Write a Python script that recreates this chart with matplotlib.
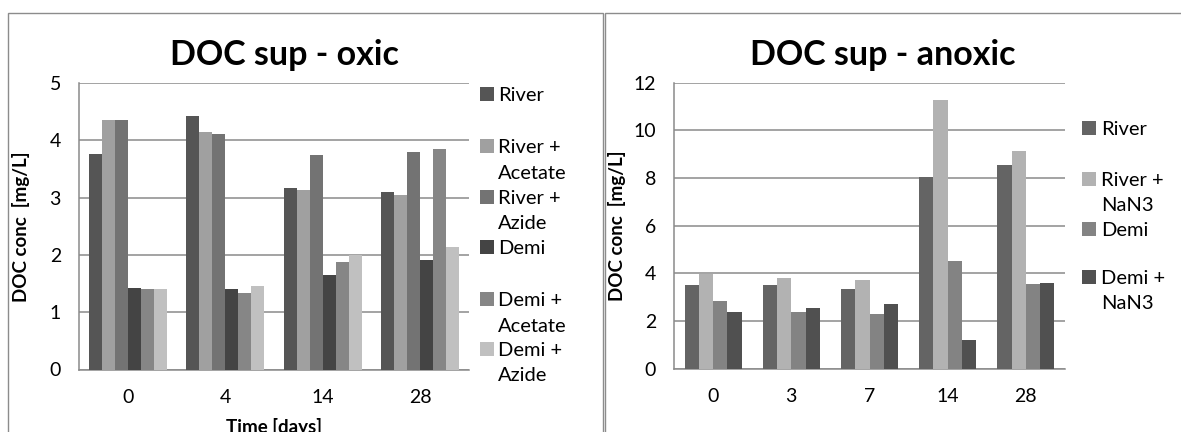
import numpy as np
import matplotlib
matplotlib.use("Agg")
import matplotlib.pyplot as plt
from matplotlib.patches import Rectangle

plt.rcParams['font.family'] = ['Lato', 'DejaVu Sans']

# oxic series
oxic_days = ['0', '4', '14', '28']
oxic_labels = ['River', 'River +\nAcetate', 'River +\nAzide', 'Demi',
               'Demi +\nAcetate', 'Demi +\nAzide']
oxic_river = [3.76, 4.42, 3.17, 3.10]
oxic_river_acetate = [4.36, 4.14, 3.14, 3.05]
oxic_river_azide = [4.36, 4.11, 3.74, 3.79]
oxic_demi = [1.42, 1.40, 1.65, 1.91]
oxic_demi_acetate = [1.40, 1.34, 1.88, 3.85]
oxic_demi_azide = [1.40, 1.45, 1.99, 2.14]
oxic_colors = ['#555555', '#a0a0a0', '#737373', '#444444', '#868686', '#c0c0c0']

# anoxic series
anoxic_days = ['0', '3', '7', '14', '28']
anoxic_labels = ['River', 'River +\nNaN3', 'Demi', 'Demi +\nNaN3']
anoxic_river = [3.52, 3.52, 3.34, 8.05, 8.55]
anoxic_river_nan3 = [3.97, 3.80, 3.74, 11.28, 9.15]
anoxic_demi = [2.86, 2.37, 2.30, 4.50, 3.55]
anoxic_demi_nan3 = [2.37, 2.56, 2.71, 1.19, 3.61]
anoxic_colors = ['#646464', '#b2b2b2', '#838383', '#505050']

W, H = 1181, 432
fig = plt.figure(figsize=(W / 100, H / 100), dpi=100)
fig.patch.set_facecolor('white')

GRID = '#8a8a8a'
FRAME = '#8c8c8c'

# chart frames (pixel boxes, origin top-left)
def px_rect(x0, y0, x1, y1):
    return Rectangle((x0 / W, 1 - y1 / H), (x1 - x0) / W, (y1 - y0) / H,
                     transform=fig.transFigure, fill=False, edgecolor=FRAME,
                     linewidth=1.0)

fig.patches.append(px_rect(8, 13, 603, 440))
fig.patches.append(px_rect(605, 13, 1190, 440))


def bar_chart(ax, days, series, colors, ymax, ystep, group_frac):
    n = len(series)
    x = np.arange(len(days))
    w = group_frac / n
    for i, (vals, c) in enumerate(zip(series, colors)):
        ax.bar(x - group_frac / 2 + w * (i + 0.5), vals, width=w, color=c,
               linewidth=0, zorder=3)
    ax.set_xlim(-0.5, len(days) - 0.5)
    ax.set_ylim(0, ymax)
    ax.set_yticks(np.arange(0, ymax + 0.01, ystep))
    ax.set_xticks(x)
    ax.set_xticklabels(days)
    ax.grid(axis='y', color=GRID, linewidth=1.1, zorder=0)
    for s in ['top', 'right']:
        ax.spines[s].set_visible(False)
    for s in ['left', 'bottom']:
        ax.spines[s].set_color(GRID)
        ax.spines[s].set_linewidth(1.1)
    ax.tick_params(axis='both', length=0, labelsize=14)
    ax.tick_params(axis='y', pad=13)
    ax.tick_params(axis='x', pad=14)
    ax.set_ylabel('DOC conc  [mg/L]', fontsize=13.5, fontweight='bold')


def legend_px(ax, ax_px, labels, colors, sq_x, txt_x, ys, step):
    # ax_px = (left, right, top, bottom) of the axes in pixels
    l, r, t, b = ax_px
    def to_ax(px, py):
        return (px - l) / (r - l), (b - py) / (b - t)
    for lab, c, y in zip(labels, colors, ys):
        x0, y0 = to_ax(sq_x, y + 7)
        ws = 14 / (r - l)
        hs = 14 / (b - t)
        ax.add_patch(Rectangle((x0, y0), ws, hs, transform=ax.transAxes,
                               facecolor=c, edgecolor='none', clip_on=False))
        for k, line in enumerate(lab.split('\n')):
            tx, ty = to_ax(txt_x, y + 7 + k * step)
            ax.text(tx, ty, line, transform=ax.transAxes, fontsize=14.5,
                    va='baseline', ha='left')


# oxic chart
left_px = (79, 469, 83, 369.5)
ax1 = fig.add_axes([left_px[0] / W, 1 - left_px[3] / H,
                    (left_px[1] - left_px[0]) / W,
                    (left_px[3] - left_px[2]) / H])
bar_chart(ax1, oxic_days,
          [oxic_river, oxic_river_acetate, oxic_river_azide, oxic_demi,
           oxic_demi_acetate, oxic_demi_azide],
          oxic_colors, 5, 1, 0.8)
ax1.yaxis.set_label_coords(-0.125, 0.5)
ax1.set_xlabel('Time [days]', fontsize=13.5, fontweight='bold')
ax1.xaxis.set_label_coords(0.5, -0.17)
legend_px(ax1, left_px, oxic_labels, oxic_colors, 480, 498,
          [94.3, 146, 196.7, 247.3, 299, 348.7], 25.7)

# anoxic chart
right_px = (674, 1065, 82.7, 368.7)
ax2 = fig.add_axes([right_px[0] / W, 1 - right_px[3] / H,
                    (right_px[1] - right_px[0]) / W,
                    (right_px[3] - right_px[2]) / H])
bar_chart(ax2, anoxic_days,
          [anoxic_river, anoxic_river_nan3, anoxic_demi, anoxic_demi_nan3],
          anoxic_colors, 12, 2, 0.727)
ax2.yaxis.set_label_coords(-0.122, 0.5)
legend_px(ax2, right_px, anoxic_labels, anoxic_colors, 1082, 1101,
          [128.3, 179, 228.7, 277], 25.3)

# titles
fig.text(170 / W, 1 - 55 / H, 'DOC sup - oxic', fontsize=24.5,
         fontweight='bold', ha='left', va='center')
fig.text(750 / W, 1 - 55 / H, 'DOC sup - anoxic', fontsize=24.5,
         fontweight='bold', ha='left', va='center')

fig.savefig('out.png', dpi=100)
